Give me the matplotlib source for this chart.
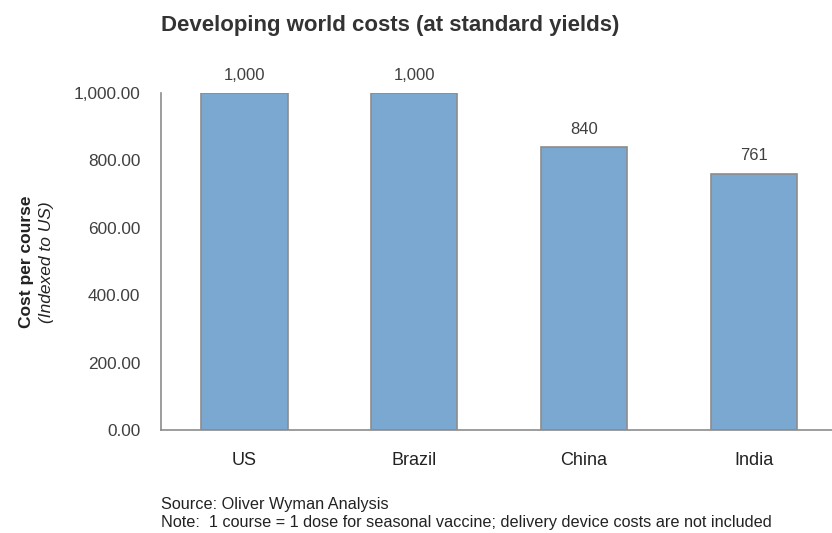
import matplotlib.pyplot as plt

# data
countries = ["US", "Brazil", "China", "India"]
costs = [1000, 1000, 840, 761]
cost_labels = ["1,000", "1,000", "840", "761"]
yticks = [0, 200, 400, 600, 800, 1000]

plt.rcParams["font.family"] = ["Liberation Sans", "DejaVu Sans"]
txt = "#404040"

fig = plt.figure(figsize=(8.32, 5.33), dpi=100)
ax = fig.add_axes([161 / 832, 1 - 430 / 533, 1 - 161 / 832, (430 - 93) / 533])

bars = ax.bar(range(len(countries)), costs, width=0.51,
              color="#7BA8D1", edgecolor="#8C8C8C", linewidth=1.2)

for b, lab in zip(bars, cost_labels):
    ax.text(b.get_x() + b.get_width() / 2, b.get_height() + 30, lab,
            ha="center", va="bottom", fontsize=12, color=txt, clip_on=False)

ax.set_xlim(-0.49, 3.46)
ax.set_ylim(0, 1000)
ax.set_xticks(range(len(countries)))
ax.set_xticklabels(countries, fontsize=13, color="#222222")
ax.set_yticks(yticks)
ax.set_yticklabels([f"{v:,.2f}" for v in yticks], fontsize=12.4, color=txt)
ax.tick_params(length=0, pad=15)
ax.tick_params(axis="x", pad=16)

for s in ["top", "right"]:
    ax.spines[s].set_visible(False)
for s in ["left", "bottom"]:
    ax.spines[s].set_color("#8C8C8C")
    ax.spines[s].set_linewidth(1.2)

fig.text(161 / 832, 1 - 25 / 533, "Developing world costs (at standard yields)",
         fontsize=16, fontweight="bold", color="#333333", va="center", ha="left")
fig.text(27 / 832, 1 - 262 / 533, "Cost per course", rotation=90, fontsize=12.5,
         fontweight="bold", color="#222222", va="center", ha="center")
fig.text(46 / 832, 1 - 262 / 533, "(Indexed to US)", rotation=90, fontsize=12.5,
         fontstyle="italic", color="#222222", va="center", ha="center")

fig.text(161 / 832, 1 - 504 / 533, "Source: Oliver Wyman Analysis",
         fontsize=11.7, color="#222222", va="center", ha="left")
fig.text(161 / 832, 1 - 523 / 533,
         "Note:  1 course = 1 dose for seasonal vaccine; delivery device costs are not included",
         fontsize=11.7, color="#222222", va="center", ha="left")

fig.savefig("out.png", dpi=100)
